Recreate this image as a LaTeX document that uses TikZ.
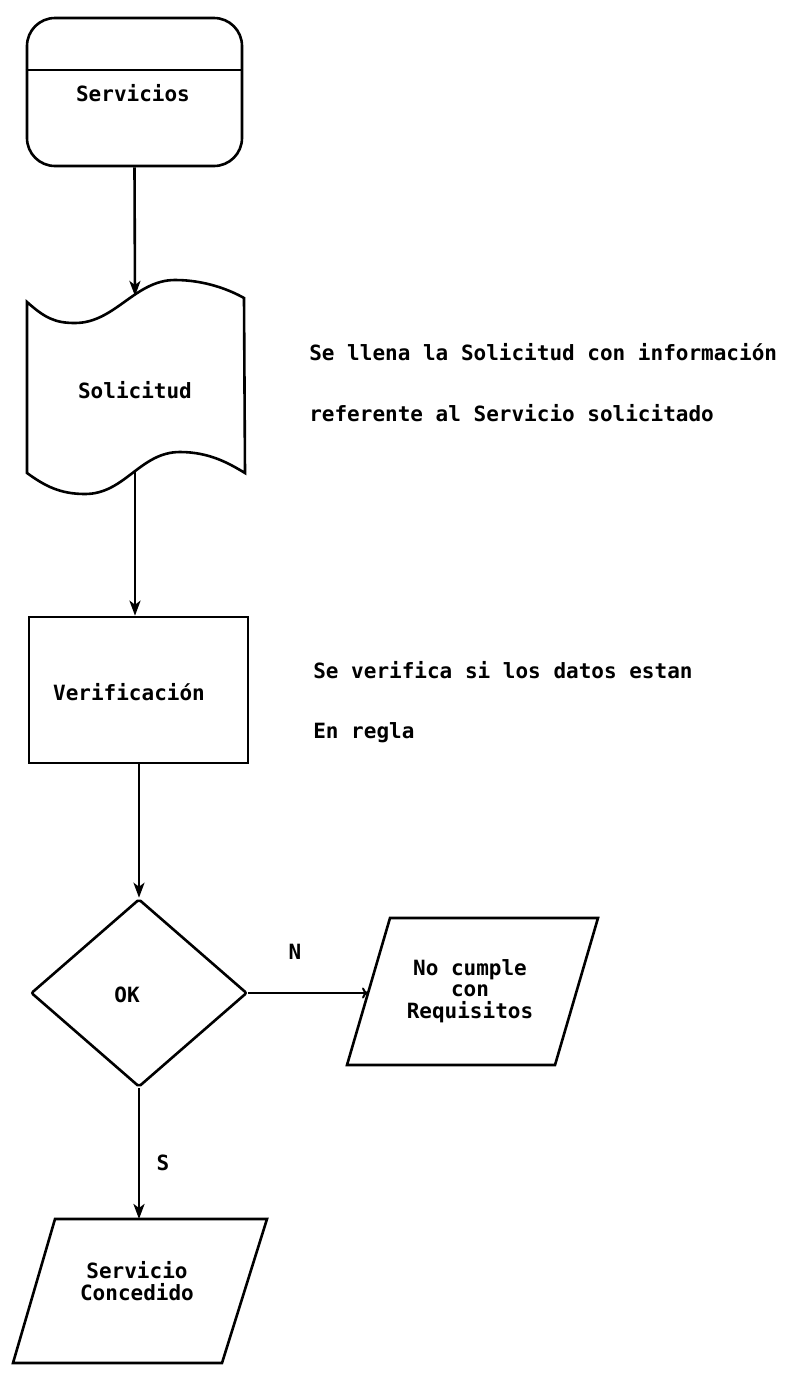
\documentclass[tikz,border=0pt]{standalone}
\usepackage{fontspec}
\setmonofont{DejaVu Sans Mono}
\usetikzlibrary{shapes.geometric,arrows.meta}
\begin{document}
\begin{tikzpicture}[x=1pt,y=-1pt,line width=2.6pt,
  txt/.style={font=\ttfamily\bfseries\fontsize{21}{21.5}\selectfont,inner sep=0pt,align=center},
  arr/.style={-{Stealth[length=15pt,width=11pt,inset=4pt]}},
  narr/.style={line width=2pt,-{To[length=6pt,width=11pt]}},
  box/.style={draw,inner sep=0pt}]
\fill[white] (0,0) rectangle (795,1379);
\useasboundingbox (0,0) rectangle (795,1379);

% Servicios (terminal with header line)
\node[box,rounded corners=28pt,minimum width=215pt,minimum height=148pt] (serv) at (134.5,92) {};
\draw (serv.west |- 0,70) -- (serv.east |- 0,70);
\node[txt] (servtxt) at (133,93) {Servicios};

% Solicitud (document / tape shape)
\draw (27,302) .. controls (45,318) and (55,323) .. (75,323)
      .. controls (115,323) and (135,280) .. (175,280)
      .. controls (205,280) and (230,290) .. (244,298)
      -- (245,473)
      .. controls (230,464) and (210,452) .. (180,452)
      .. controls (140,452) and (125,494) .. (85,494)
      .. controls (60,494) and (45,486) .. (27,473) -- cycle;
\coordinate (soln) at (135,296);
\coordinate (sols) at (135,472);
\node[txt] (soltxt) at (135,390) {Solicitud};

% Verificacion
\node[box,minimum width=219pt,minimum height=146pt] (ver) at (138.5,690) {};
\node[txt] (vertxt) at (129,692) {Verificación};

% Decision
\node[diamond,draw,inner sep=0pt,minimum width=216pt,minimum height=188pt,rounded corners=2pt] (ok) at (139,993) {};
\node[txt] (oktxt) at (127,995) {OK};

% No cumple con Requisitos
\draw (390,918) -- (598,918) -- (555,1065) -- (347,1065) -- cycle;
\coordinate (ncw) at (368,993);
\node[txt] (nctxt) at (470,991) {No cumple\\con\\Requisitos};

% Servicio Concedido
\draw (55,1219) -- (267,1219) -- (222,1363) -- (13,1363) -- cycle;
\coordinate (concn) at (139,1219);
\node[txt] (conctxt) at (137,1281) {Servicio\\Concedido};

% Connectors
\draw[arr] (serv.south) -- (soln);
\draw[arr] (sols) -- (sols |- ver.north);
\draw[arr] (ok.north |- ver.south) -- (ok.north);
\draw[arr] (ok.south) -- (concn);
\draw[narr] (ok.east) -- (ok.east -| ncw);

% Branch labels
\node[txt] (nlab) at (295,952) {N};
\node[txt] (slab) at (163,1163) {S};

% Side notes
\node[txt,anchor=west] (note1) at (308,352) {Se llena la Solicitud con información};
\node[txt,anchor=west] (note2) at (308,413) {referente al Servicio solicitado};
\node[txt,anchor=west] (note3) at (312,670) {Se verifica si los datos estan};
\node[txt,anchor=west] (note4) at (312,733) {En regla};
\end{tikzpicture}
\end{document}
